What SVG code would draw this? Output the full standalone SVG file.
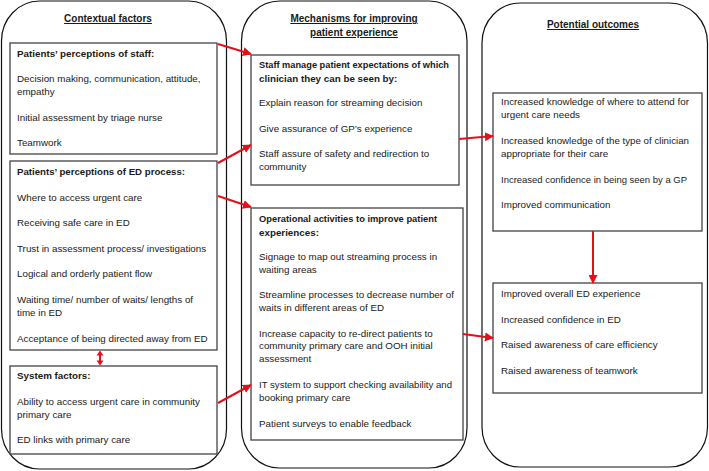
<svg xmlns="http://www.w3.org/2000/svg" width="709" height="471" viewBox="0 0 709 471">
<style>
.bg{fill:#ffffff}
.col{fill:none;stroke:#111;stroke-width:1.2}
.box{fill:#ffffff;stroke:#444;stroke-width:1.3}
text{font-family:"Liberation Sans",Arial,sans-serif;font-size:9.8px;fill:#1a1a1a}
.h{font-weight:bold}
.t{font-weight:bold;text-decoration:underline;text-anchor:middle;font-size:10px}
.arr{stroke:#e3101c;stroke-width:2;fill:none;marker-end:url(#ah)}
.red{fill:#e3101c}
</style>
<defs>
<marker id="ah" viewBox="0 0 10 10" refX="9" refY="5" markerWidth="4.5" markerHeight="4.5" orient="auto-start-reverse" markerUnits="strokeWidth">
<path d="M0,0 L10,5 L0,10 z" fill="#e3101c"/>
</marker>
</defs>
<rect class="bg" x="0" y="0" width="709" height="471"/>
<g id="col-context">
<rect class="col" x="1.5" y="1" width="225" height="468" rx="38" ry="40"/>
<text class="t" x="108" y="22">Contextual factors</text>
</g>
<g id="col-mechanisms">
<rect class="col" x="241.5" y="1" width="225.5" height="467" rx="38" ry="40"/>
<text class="t" x="354" y="22">Mechanisms for improving</text>
<text class="t" x="354" y="36">patient experience</text>
</g>
<g id="col-outcomes">
<rect class="col" x="482" y="3" width="225.5" height="464" rx="38" ry="40"/>
<text class="t" x="593" y="28">Potential outcomes</text>
</g>
<g id="staff">
<rect class="box" x="10" y="43" width="207" height="111"/>
<text class="h" x="17" y="57">Patients’ perceptions of staff:</text>
<text x="17" y="82">Decision making, communication, attitude,</text>
<text x="17" y="95">empathy</text>
<text x="17" y="121">Initial assessment by triage nurse</text>
<text x="17" y="146">Teamwork</text>
</g>
<g id="process">
<rect class="box" x="10" y="161" width="207" height="189"/>
<text class="h" x="17" y="175" textLength="168" lengthAdjust="spacingAndGlyphs">Patients’ perceptions of ED process:</text>
<text x="17" y="201">Where to access urgent care</text>
<text x="17" y="226">Receiving safe care in ED</text>
<text x="17" y="252">Trust in assessment process/ investigations</text>
<text x="17" y="277">Logical and orderly patient flow</text>
<text x="17" y="303">Waiting time/ number of waits/ lengths of</text>
<text x="17" y="316">time in ED</text>
<text x="17" y="342">Acceptance of being directed away from ED</text>
</g>
<g id="system">
<rect class="box" x="10" y="366" width="207" height="88"/>
<text class="h" x="17" y="379">System factors:</text>
<text x="17" y="405">Ability to access urgent care in community</text>
<text x="17" y="418">primary care</text>
<text x="17" y="443">ED links with primary care</text>
</g>
<g id="expectations">
<rect class="box" x="251" y="55" width="208" height="130"/>
<text class="h" x="259" y="68" textLength="190" lengthAdjust="spacingAndGlyphs">Staff manage patient expectations of which</text>
<text class="h" x="259" y="82">clinician they can be seen by:</text>
<text x="259" y="106">Explain reason for streaming decision</text>
<text x="259" y="132">Give assurance of GP’s experience</text>
<text x="259" y="157">Staff assure of safety and redirection to</text>
<text x="259" y="170">community</text>
</g>
<g id="operational">
<rect class="box" x="251" y="208" width="212" height="232"/>
<text class="h" x="259" y="222" textLength="178" lengthAdjust="spacingAndGlyphs">Operational activities to improve patient</text>
<text class="h" x="259" y="236">experiences:</text>
<text x="259" y="260">Signage to map out streaming process in</text>
<text x="259" y="273">waiting areas</text>
<text x="259" y="298">Streamline processes to decrease number of</text>
<text x="259" y="311">waits in different areas of ED</text>
<text x="259" y="337">Increase capacity to re-direct patients to</text>
<text x="259" y="349">community primary care and OOH initial</text>
<text x="259" y="362">assessment</text>
<text x="259" y="388" textLength="193" lengthAdjust="spacingAndGlyphs">IT system to support checking availability and</text>
<text x="259" y="401">booking primary care</text>
<text x="259" y="427">Patient surveys to enable feedback</text>
</g>
<g id="outcomes1">
<rect class="box" x="493" y="93" width="209" height="138"/>
<text x="501" y="105" textLength="188" lengthAdjust="spacingAndGlyphs">Increased knowledge of where to attend for</text>
<text x="501" y="118">urgent care needs</text>
<text x="501" y="144" textLength="188" lengthAdjust="spacingAndGlyphs">Increased knowledge of the type of clinician</text>
<text x="501" y="157">appropriate for their care</text>
<text x="501" y="183" textLength="186" lengthAdjust="spacingAndGlyphs">Increased confidence in being seen by a GP</text>
<text x="501" y="208">Improved communication</text>
</g>
<g id="outcomes2">
<rect class="box" x="493" y="283" width="209" height="110"/>
<text x="501" y="297">Improved overall ED experience</text>
<text x="501" y="323">Increased confidence in ED</text>
<text x="501" y="348">Raised awareness of care efficiency</text>
<text x="501" y="374">Raised awareness of teamwork</text>
</g>
<g id="connectors">
<line class="arr" x1="218" y1="44" x2="251" y2="54"/>
<line class="arr" x1="218" y1="163" x2="251" y2="145"/>
<line class="arr" x1="218" y1="196" x2="251" y2="207"/>
<line class="arr" x1="218" y1="403" x2="251" y2="385"/>
<line class="arr" x1="459" y1="139" x2="493" y2="136"/>
<line class="arr" x1="463" y1="334" x2="493" y2="338"/>
<line class="arr" x1="593" y1="231" x2="593" y2="283"/>
<g id="double-arrow">
<line x1="100" y1="354" x2="100" y2="362" stroke="#e3101c" stroke-width="2"/>
<polygon class="red" points="100,350.5 96.5,355.5 103.5,355.5"/>
<polygon class="red" points="100,365.5 96.5,360.5 103.5,360.5"/>
</g>
</g>
</svg>
